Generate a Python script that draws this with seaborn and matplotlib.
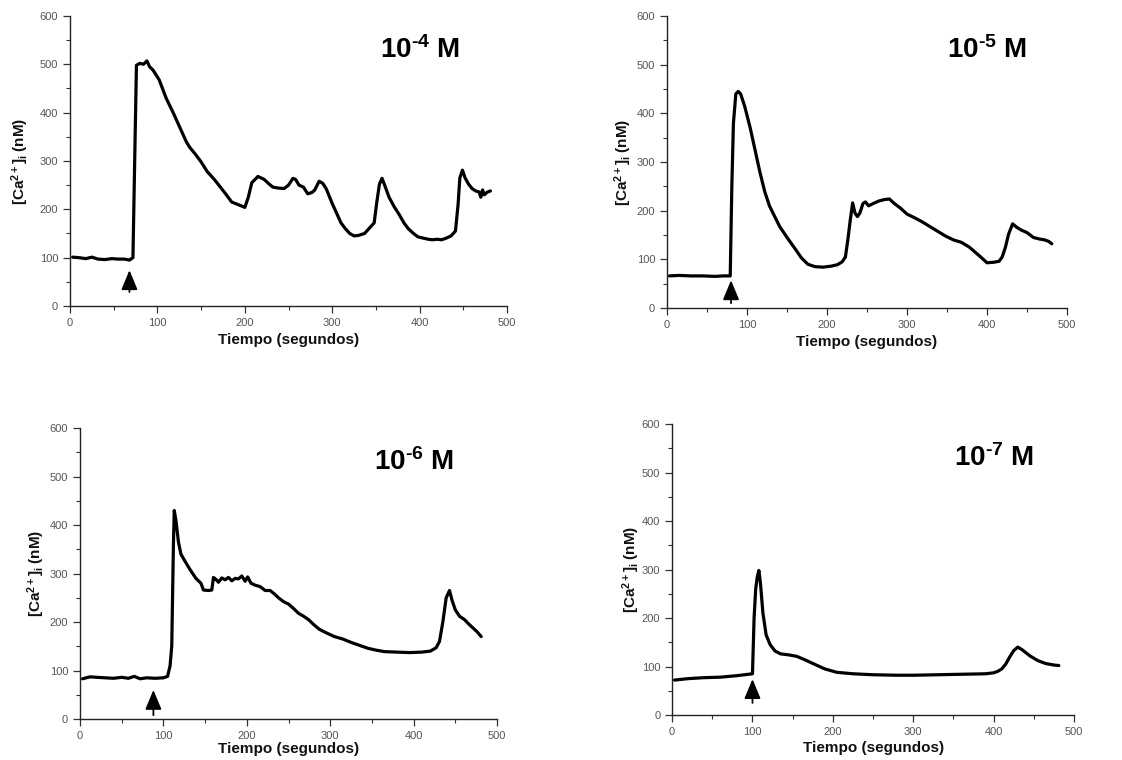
import numpy as np
import pandas as pd
import matplotlib
matplotlib.use("Agg")
import matplotlib.pyplot as plt
from matplotlib.ticker import MultipleLocator
import seaborn as sns

# ---- data ----
t_4 = [3, 10, 18, 25, 32, 40, 48, 55, 62, 68, 72, 74, 76, 80, 84, 88, 91, 95, 102, 110, 118, 126, 133, 137,
       143, 150, 157, 165, 172, 178, 185, 192, 200, 204, 208, 215, 222, 228, 232, 238, 245, 250, 255, 258,
       262, 267, 272, 277, 280, 285, 289, 293, 300, 305, 310, 315, 320, 325, 330, 337, 343, 348, 351, 354,
       357, 361, 365, 371, 377, 382, 387, 393, 398, 405, 410, 415, 420, 425, 430, 436, 441, 444, 446, 449,
       452, 456, 460, 464, 468, 470, 472, 474, 477, 481]
c_4 = [101, 100, 98, 101, 97, 96, 98, 97, 97, 95, 100, 300, 498, 502, 500, 507, 495, 488, 468, 430, 400, 368,
       340, 328, 315, 298, 278, 262, 246, 232, 215, 210, 204, 225, 255, 268, 262, 252, 246, 244, 243, 250,
       264, 262, 250, 246, 232, 235, 240, 258, 254, 243, 212, 192, 172, 160, 150, 145, 146, 150, 162, 172,
       215, 252, 264, 245, 225, 205, 188, 172, 160, 150, 143, 140, 138, 137, 138, 137, 140, 145, 155, 210,
       265, 281, 265, 252, 243, 238, 236, 225, 240, 230, 235, 238]

t_5 = [3, 15, 30, 45, 60, 70, 79, 81, 83, 86, 89, 92, 97, 104, 110, 116, 122, 128, 134, 141, 150, 160, 168,
       176, 185, 195, 205, 213, 219, 223, 226, 229, 232, 235, 238, 241, 245, 248, 252, 258, 265, 272, 278,
       284, 292, 300, 310, 318, 328, 338, 348, 358, 368, 378, 385, 392, 400, 408, 415, 419, 423, 427, 432,
       437, 443, 450, 458, 465, 472, 477, 481]
c_5 = [66, 67, 66, 66, 65, 66, 66, 250, 380, 440, 445, 440, 415, 370, 325, 280, 240, 210, 190, 167, 145, 122,
       103, 90, 85, 84, 86, 89, 95, 105, 140, 180, 216, 195, 188, 195, 215, 218, 210, 215, 220, 223, 224, 215,
       205, 193, 185, 178, 168, 158, 148, 140, 135, 125, 115, 105, 93, 94, 96, 105, 125, 152, 173, 166, 160,
       155, 145, 142, 140, 137, 132]

t_6 = [3, 12, 20, 30, 40, 50, 58, 65, 72, 80, 90, 100, 105, 108, 110, 112, 113, 115, 118, 121, 126, 132,
       139, 145, 148, 154, 158, 160, 163, 166, 170, 174, 178, 182, 186, 190, 194, 198, 201, 205, 210, 216,
       222, 228, 233, 238, 244, 250, 256, 262, 268, 274, 280, 287, 295, 305, 315, 325, 335, 345, 355, 365,
       380, 395, 410, 420, 427, 431, 435, 439, 443, 446, 450, 455, 461, 466, 471, 476, 481]
c_6 = [83, 87, 86, 85, 84, 86, 84, 88, 83, 85, 84, 85, 88, 110, 150, 360, 430, 410, 365, 340, 325, 308, 290,
       280, 266, 265, 266, 292, 288, 282, 291, 287, 292, 285, 290, 289, 295, 284, 293, 280, 276, 273, 265,
       265, 258, 250, 242, 237, 228, 218, 212, 205, 195, 185, 178, 170, 165, 158, 152, 146, 142, 139, 138,
       137, 138, 140, 147, 160, 200, 250, 265, 245, 225, 212, 205, 196, 188, 180, 170]

t_7 = [3, 20, 40, 60, 80, 95, 100, 102, 104, 106, 108, 110, 113, 117, 122, 128, 135, 145, 155, 165, 178,
       190, 205, 225, 250, 280, 300, 330, 360, 390, 400, 405, 410, 415, 420, 425, 430, 435, 445, 455, 465,
       475, 481]
c_7 = [72, 75, 77, 78, 81, 84, 85, 200, 260, 285, 298, 270, 210, 165, 145, 132, 126, 124, 121, 114, 104,
       95, 88, 85, 83, 82, 82, 83, 84, 85, 87, 90, 95, 105, 120, 133, 140, 135, 122, 112, 106, 103, 102]

panels = [
    ("10$^{\u20104}$ M", t_4, c_4, 68, 74, 29),
    ("10$^{\u20105}$ M", t_5, c_5, 80, 57, 10),
    ("10$^{\u20106}$ M", t_6, c_6, 88, 60, 8),
    ("10$^{\u20107}$ M", t_7, c_7, 100, 74, 25),
]
xlabel = "Tiempo (segundos)"
ylabel = "[Ca$^{2+}$]$_i$ (nM)"

sns.set_style("ticks")
plt.rcParams["font.family"] = ["Liberation Sans", "DejaVu Sans"]
plt.rcParams["mathtext.fontset"] = "custom"
plt.rcParams["mathtext.rm"] = "Liberation Sans:bold"
plt.rcParams["mathtext.it"] = "Liberation Sans:bold"
plt.rcParams["mathtext.bf"] = "Liberation Sans:bold"

fig = plt.figure(figsize=(11.22, 7.6), dpi=100)
rects = [
    [0.0624, 0.5974, 0.3895, 0.3816],
    [0.5945, 0.5947, 0.3565, 0.3842],
    [0.0713, 0.0539, 0.3717, 0.3829],
    [0.5990, 0.0592, 0.3583, 0.3829],
]
ylabelpads = [6, 2, 2, 0]
xlabelpads = [4, 4, 1, 3]

for i, (rect, (label, t, c, ax_x, tip, base)) in enumerate(zip(rects, panels)):
    ax = fig.add_axes(rect)
    df = pd.DataFrame({"t": t, "c": c})
    sns.lineplot(data=df, x="t", y="c", ax=ax, color="black", lw=2.3, estimator=None, sort=False)
    ax.set_xlim(0, 500)
    ax.set_ylim(0, 600)
    ax.xaxis.set_major_locator(MultipleLocator(100))
    ax.xaxis.set_minor_locator(MultipleLocator(50))
    ax.yaxis.set_major_locator(MultipleLocator(100))
    ax.yaxis.set_minor_locator(MultipleLocator(50))
    sns.despine(ax=ax)
    for s in ("left", "bottom"):
        ax.spines[s].set_linewidth(1.0)
        ax.spines[s].set_color("#222222")
    ax.tick_params(which="major", direction="out", length=5, width=0.9, color="#333333",
                   labelsize=8, labelcolor="#555555")
    ax.tick_params(which="minor", direction="out", length=3, width=0.8, color="#333333")
    ax.set_xlabel(xlabel, fontsize=11, fontweight="bold", labelpad=xlabelpads[i], color="#111111")
    ax.set_ylabel(ylabel, fontsize=11, fontweight="bold", labelpad=ylabelpads[i], color="#111111")
    ax.text(400, 530, label, fontsize=20, fontweight="bold", ha="center", va="center", color="black")
    ax.annotate("", xy=(ax_x, tip), xytext=(ax_x, base),
                arrowprops=dict(arrowstyle="-|>,head_length=0.6,head_width=0.25",
                                color="black", lw=1.3, mutation_scale=20,
                                shrinkA=0, shrinkB=0))

fig.savefig("out.png", dpi=100, facecolor="white")
